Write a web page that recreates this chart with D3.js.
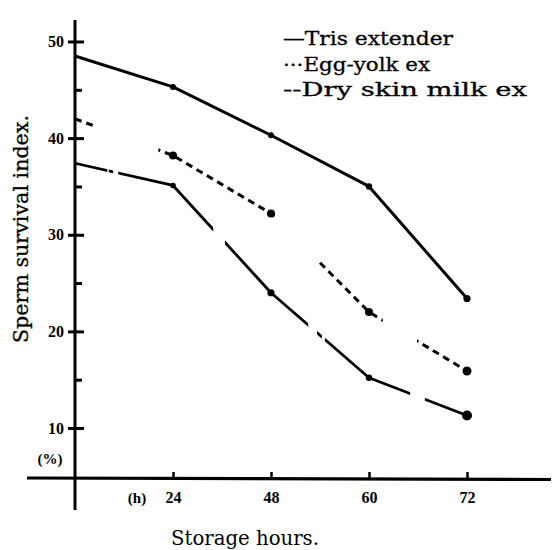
<!DOCTYPE html>
<html>
<head>
<meta charset="utf-8">
<script src="https://cdn.jsdelivr.net/npm/d3@7"></script>
<style>
  html, body { margin: 0; padding: 0; background: #fff; }
  svg { display: block; }
</style>
</head>
<body>
<div id="chart"></div>
<script>
// ---------- data ----------
const hours = [0, 24, 48, 60, 72];
const trisExtender = [48.5, 45.3, 40.3, 35.0, 23.4];
const eggYolkEx = [42.0, 38.2, 32.2, 22.0, 15.9];
const drySkinMilkEx = [37.4, 35.1, 24.0, 15.2, 11.3];
const yMajorTicks = [10, 20, 30, 40, 50];
const yMinorTicks = [15, 25, 35, 45];
const xTickValues = [24, 48, 60, 72];
const legendLabels = ["\u2014Tris extender", "\u00b7\u00b7\u00b7Egg-yolk ex", "--Dry skin milk ex"];
const yTitle = "Sperm survival index.";
const xTitle = "Storage hours.";

// ---------- styles / layout ----------
const W = 554, H = 550;
const serif = "'DejaVu Serif', 'Liberation Serif', serif";
const tickFont = "'Liberation Serif', serif";
// visible stretches of the printed (broken) lines, in category-index units
const eggVisible = [[-0.05, 0.2], [0.85, 2.04], [2.48, 3.14], [3.49, 4.1]];
const dryVisible = [[-0.05, 0.33], [0.345, 0.39], [0.44, 1.41], [1.53, 2.38], [2.47, 2.52], [2.55, 3.42], [3.57, 4.1]];

const svg = d3.select("#chart").append("svg")
  .attr("width", W).attr("height", H)
  .attr("viewBox", `0 0 ${W} ${H}`);

const x = d3.scalePoint().domain(hours).range([75, 467]).padding(0);
const y = d3.scaleLinear().domain([10, 50]).range([428, 41.5]);
const axisY = 478;
const idxToPx = i => x.range()[0] + i * x.step();

// ---------- axes ----------
svg.append("line")
  .attr("x1", x(0)).attr("x2", x(0))
  .attr("y1", 20).attr("y2", 510)
  .attr("stroke", "#000").attr("stroke-width", 3);
svg.append("line")
  .attr("x1", 27).attr("x2", 551)
  .attr("y1", axisY).attr("y2", axisY + 1.5)
  .attr("stroke", "#000").attr("stroke-width", 3.2);

const gyL = svg.append("g").attr("transform", `translate(${x(0)},0)`)
  .call(d3.axisLeft(y).tickValues(yMajorTicks).tickSizeInner(7).tickSizeOuter(0).tickPadding(4).tickFormat(d3.format("d")));
const gyR = svg.append("g").attr("transform", `translate(${x(0)},0)`)
  .call(d3.axisRight(y).tickValues(yMajorTicks).tickSizeInner(9).tickSizeOuter(0).tickFormat(""));
const gyR2 = svg.append("g").attr("transform", `translate(${x(0)},0)`)
  .call(d3.axisRight(y).tickValues(yMinorTicks).tickSizeInner(7).tickSizeOuter(0).tickFormat(""));
[gyL, gyR, gyR2].forEach(g => {
  g.select(".domain").remove();
  g.selectAll(".tick line").attr("stroke", "#000").attr("stroke-width", 3);
});
gyL.selectAll(".tick text")
  .attr("font-family", tickFont).attr("font-weight", "bold")
  .attr("font-size", 16).attr("fill", "#000");

const gxT = svg.append("g").attr("transform", `translate(0,${axisY})`)
  .call(d3.axisTop(x).tickValues(xTickValues).tickSizeInner(6).tickSizeOuter(0).tickFormat(""));
const gxB = svg.append("g").attr("transform", `translate(0,${axisY})`)
  .call(d3.axisBottom(x).tickValues(xTickValues).tickSize(0).tickPadding(14));
[gxT, gxB].forEach(g => g.select(".domain").remove());
gxT.selectAll(".tick line").attr("stroke", "#000").attr("stroke-width", 2.5);
gxB.selectAll(".tick text")
  .attr("font-family", tickFont).attr("font-weight", "bold")
  .attr("font-size", 16).attr("fill", "#000");

svg.append("text").text("(h)")
  .attr("x", 137).attr("y", 503).attr("text-anchor", "middle")
  .attr("font-family", tickFont).attr("font-weight", "bold").attr("font-size", 15);
svg.append("text").text("(%)")
  .attr("x", 50).attr("y", 464).attr("text-anchor", "middle")
  .attr("font-family", tickFont).attr("font-weight", "bold").attr("font-size", 15);

// ---------- clip paths for broken lines ----------
const defs = svg.append("defs");
function makeClip(id, ranges) {
  const cp = defs.append("clipPath").attr("id", id);
  cp.selectAll("rect").data(ranges).join("rect")
    .attr("x", d => idxToPx(d[0]))
    .attr("width", d => idxToPx(d[1]) - idxToPx(d[0]))
    .attr("y", 0).attr("height", H);
}
makeClip("clipEgg", eggVisible);
makeClip("clipDry", dryVisible);

// ---------- lines ----------
const line = d3.line().x((d, i) => x(hours[i])).y(d => y(d));

svg.append("path").datum(trisExtender)
  .attr("d", line).attr("fill", "none")
  .attr("stroke", "#000").attr("stroke-width", 3)
  .attr("stroke-linejoin", "round");

svg.append("path").datum(eggYolkEx)
  .attr("d", line).attr("fill", "none")
  .attr("stroke", "#000").attr("stroke-width", 3)
  .attr("stroke-dasharray", "7,5")
  .attr("clip-path", "url(#clipEgg)");

svg.append("path").datum(drySkinMilkEx)
  .attr("d", line).attr("fill", "none")
  .attr("stroke", "#000").attr("stroke-width", 2.8)
  .attr("stroke-linejoin", "round")
  .attr("clip-path", "url(#clipDry)");

// ---------- markers ----------
const markerR = {
  tris: [0, 3, 3, 3.2, 3.6],
  egg: [0, 4, 4, 4, 4.5],
  dry: [0, 2.8, 3.6, 3.2, 5]
};
function markers(vals, radii) {
  svg.append("g").selectAll("circle")
    .data(vals.map((v, i) => ({ v, i })).filter(d => radii[d.i] > 0))
    .join("circle")
    .attr("cx", d => x(hours[d.i]))
    .attr("cy", d => y(d.v))
    .attr("r", d => radii[d.i])
    .attr("fill", "#000");
}
markers(trisExtender, markerR.tris);
markers(eggYolkEx, markerR.egg);
markers(drySkinMilkEx, markerR.dry);

// ---------- legend ----------
const legendLengths = [170, 147, 244];
svg.append("g").selectAll("text").data(legendLabels).join("text")
  .attr("x", 283)
  .attr("y", (d, i) => 45 + i * 25.5)
  .attr("font-family", serif).attr("font-size", 18)
  .attr("stroke", "#000").attr("stroke-width", 0.3)
  .attr("textLength", (d, i) => legendLengths[i])
  .attr("lengthAdjust", "spacingAndGlyphs")
  .text(d => d);

// ---------- axis titles ----------
svg.append("text").text(yTitle)
  .attr("transform", "translate(28,229) rotate(-90)")
  .attr("text-anchor", "middle")
  .attr("font-family", serif).attr("font-size", 21)
  .attr("stroke", "#000").attr("stroke-width", 0.3)
  .attr("textLength", 228).attr("lengthAdjust", "spacingAndGlyphs");

svg.append("text").text(xTitle)
  .attr("x", 245).attr("y", 545)
  .attr("text-anchor", "middle")
  .attr("font-family", serif).attr("font-size", 20)
  .attr("textLength", 148).attr("lengthAdjust", "spacingAndGlyphs");
</script>
</body>
</html>
